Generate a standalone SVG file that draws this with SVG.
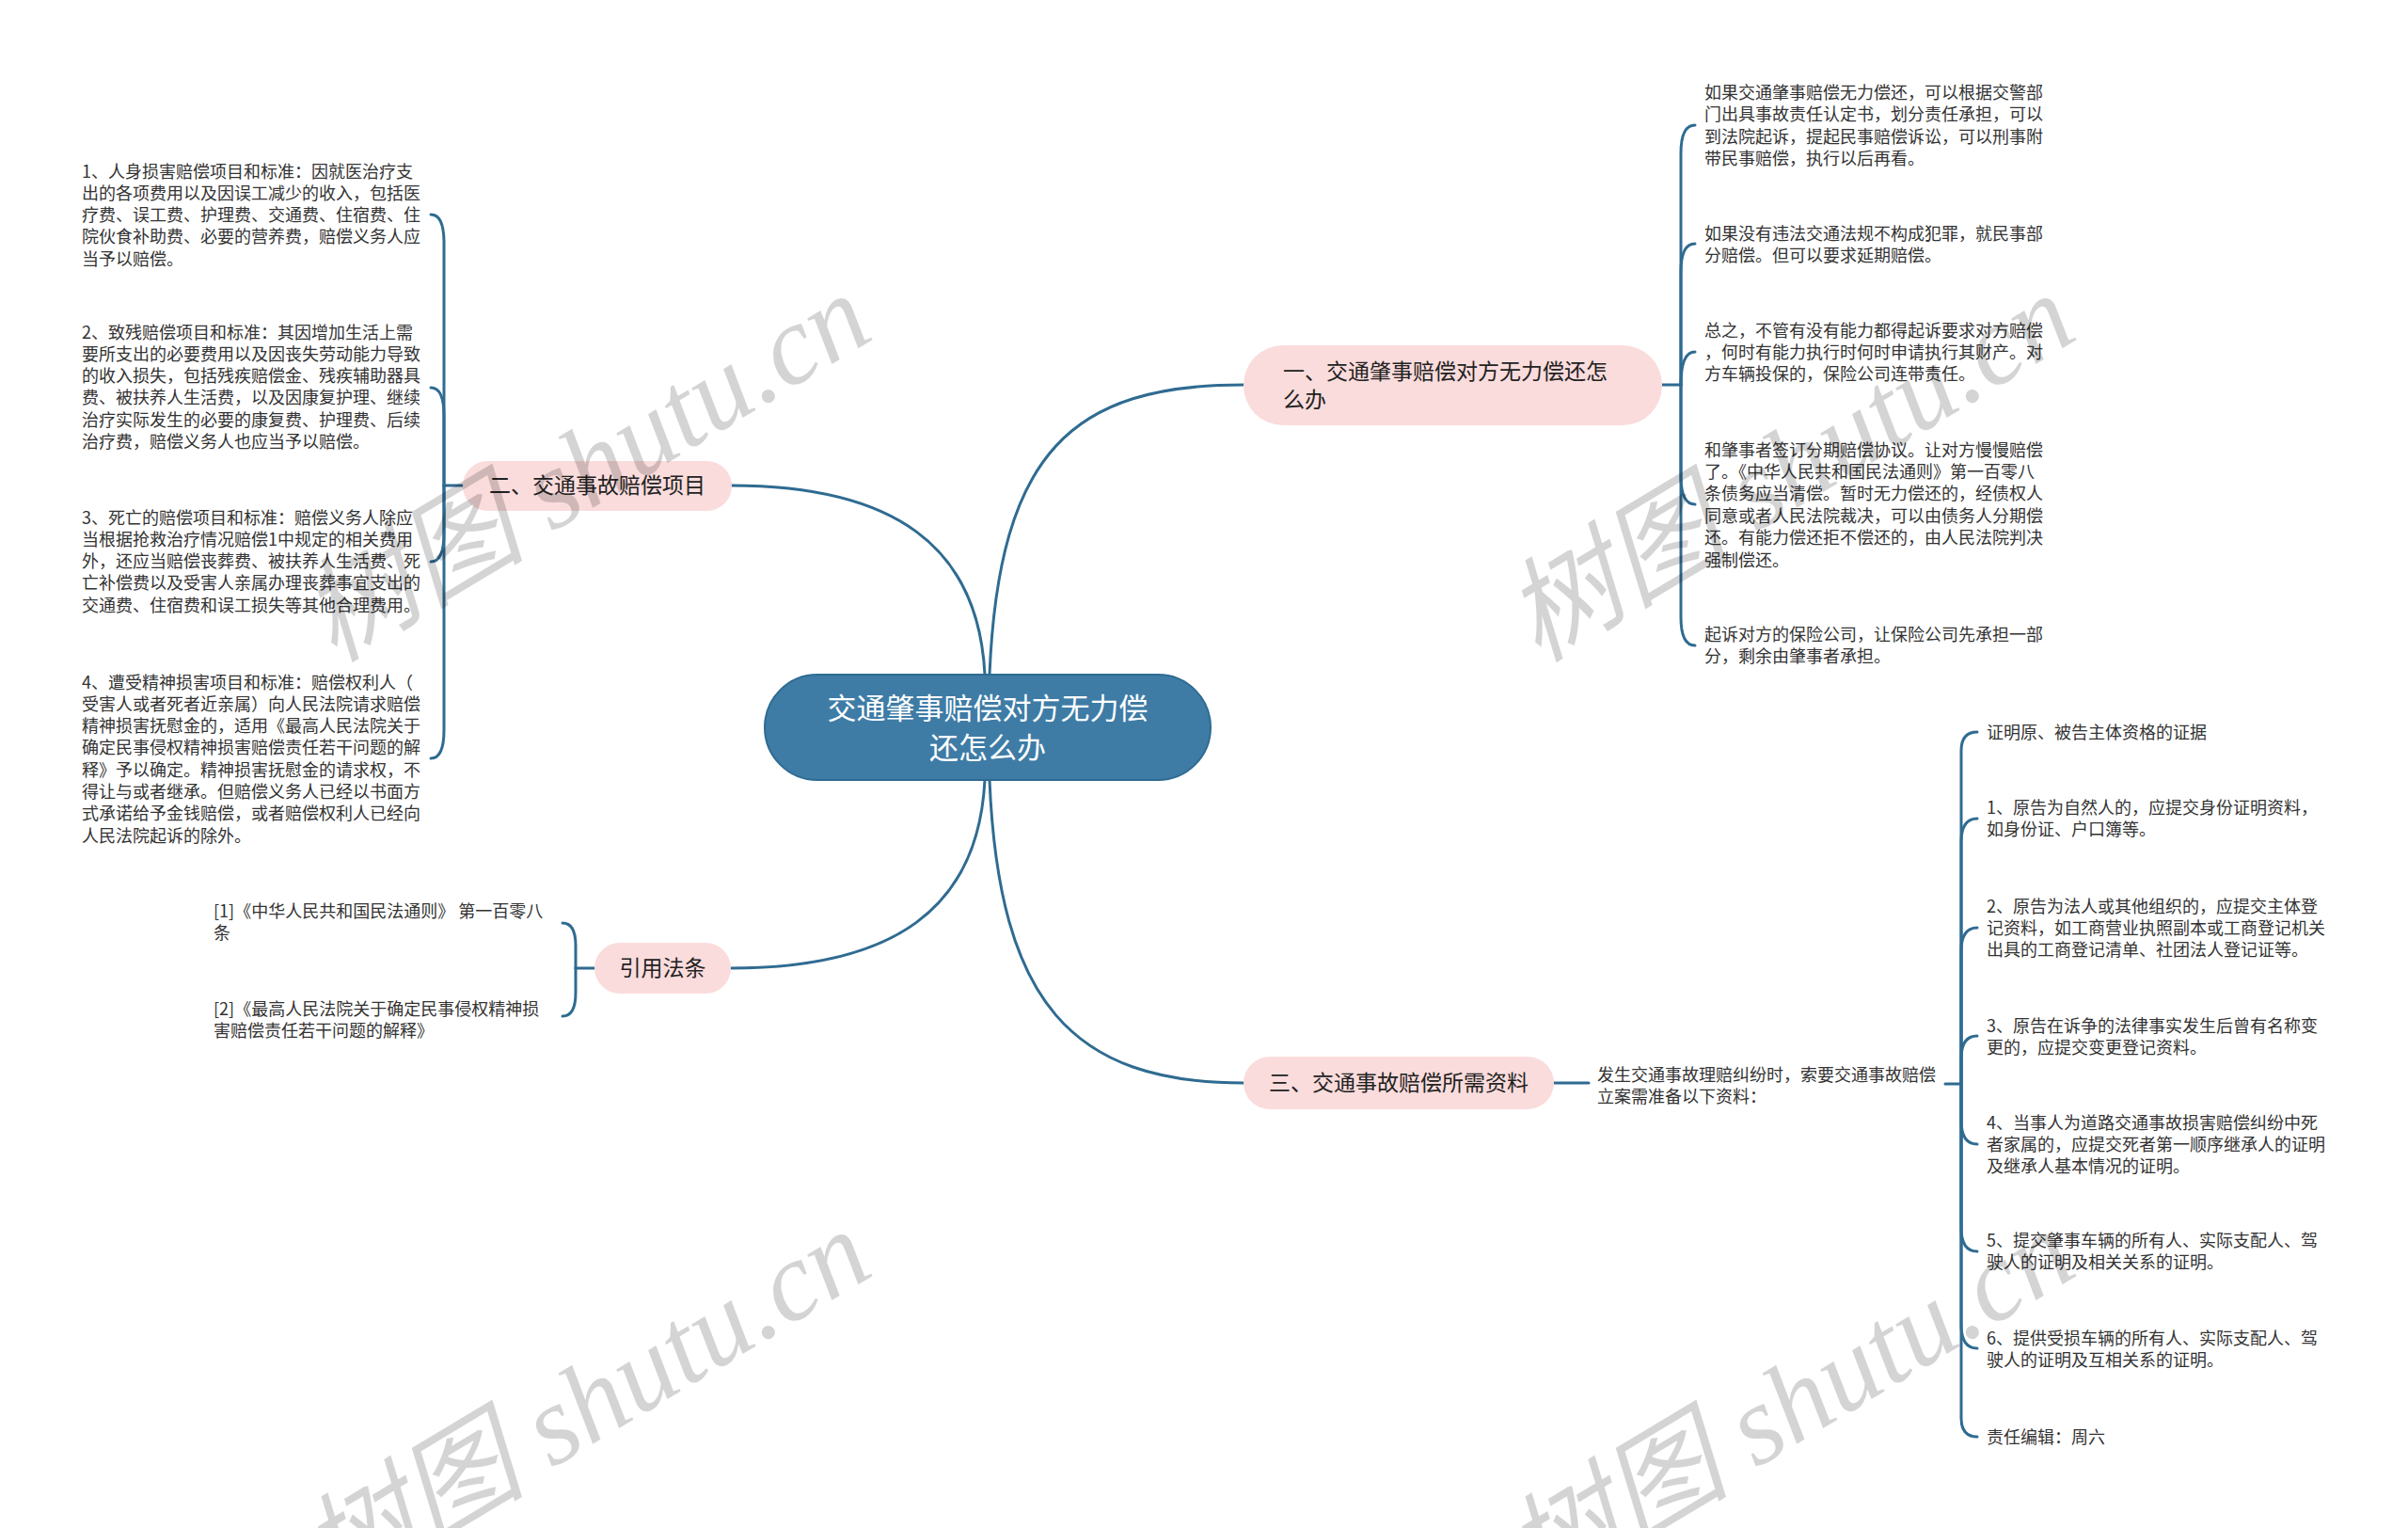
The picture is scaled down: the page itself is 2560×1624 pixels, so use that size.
<svg xmlns="http://www.w3.org/2000/svg" width="2560" height="1624" viewBox="0 0 2560 1624">
<style>
.leaf{font-family:"Noto Sans CJK SC",sans-serif;font-size:18px;fill:#333333}
.br{font-family:"Noto Sans CJK SC",sans-serif;font-size:23px;fill:#222222}
.pill{fill:#fadcdc}
.ct{font-family:"Noto Sans CJK SC",sans-serif;font-size:31px;fill:#ffffff;text-anchor:middle}
.ln{fill:none;stroke:#2f6b91;stroke-width:3;stroke-linecap:round}
.wm{font-family:"Liberation Serif","Noto Sans CJK SC",serif;font-style:italic;font-size:120px;fill:#000000;fill-opacity:0.17}
</style>
<rect width="2560" height="1624" fill="#ffffff"/>
<g id="connectors">
<path class="ln" d="M1052 717 C1062 480 1140 409 1322 409"/>
<path class="ln" d="M777 516 C950 516 1040 580 1047 717"/>
<path class="ln" d="M1047 829 C1040 966 950 1029 777 1029"/>
<path class="ln" d="M1052 829 C1062 1066 1140 1151 1322 1151"/>
<!-- branch 1 bracket -->
<path class="ln" d="M1767 409 H1787"/>
<path class="ln" d="M1787 409 V163 Q1787 133 1802 133"/>
<path class="ln" d="M1787 409 V289 Q1787 259 1802 259"/>
<path class="ln" d="M1787 409 Q1787 374 1802 374"/>
<path class="ln" d="M1787 409 V506 Q1787 536 1802 536"/>
<path class="ln" d="M1787 409 V656 Q1787 686 1802 686"/>
<!-- branch 2 bracket -->
<path class="ln" d="M492 516 H472"/>
<path class="ln" d="M472 516 V258 Q472 228 458 228"/>
<path class="ln" d="M472 516 V442 Q472 412 458 412"/>
<path class="ln" d="M472 516 V567 Q472 597 458 597"/>
<path class="ln" d="M472 516 V776 Q472 806 458 806"/>
<!-- law bracket -->
<path class="ln" d="M632 1029 H612"/>
<path class="ln" d="M612 1029 V1005 Q612 981 598 981"/>
<path class="ln" d="M612 1029 V1055 Q612 1080 598 1080"/>
<!-- branch 3 -->
<path class="ln" d="M1652 1151 H1689"/>
<path class="ln" d="M2068 1152 H2085"/>
<path class="ln" d="M2085 1152 V798 Q2085 778 2102 778"/>
<path class="ln" d="M2085 1152 V895 Q2085 870 2102 870"/>
<path class="ln" d="M2085 1152 V1011 Q2085 986 2102 986"/>
<path class="ln" d="M2085 1152 V1125 Q2085 1101 2102 1101"/>
<path class="ln" d="M2085 1152 V1191 Q2085 1216 2102 1216"/>
<path class="ln" d="M2085 1152 V1305 Q2085 1330 2102 1330"/>
<path class="ln" d="M2085 1152 V1408 Q2085 1433 2102 1433"/>
<path class="ln" d="M2085 1152 V1507 Q2085 1527 2102 1527"/>
</g>
<g id="root">
<rect x="813" y="717" width="474" height="112" rx="56" fill="#3e7ca6" stroke="#2f6b91" stroke-width="2"/>
<text class="ct" x="1050" y="764">交通肇事赔偿对方无力偿</text>
<text class="ct" x="1050" y="806">还怎么办</text>
</g>
<g id="b1">
<rect class="pill" x="1322" y="367" width="445" height="85" rx="42"/>
<text class="br" x="1364" y="403">一、交通肇事赔偿对方无力偿还怎</text>
<text class="br" x="1364" y="433">么办</text>
</g>
<g id="b2">
<rect class="pill" x="492" y="490" width="286" height="53" rx="26.5"/>
<text class="br" x="635" y="524" text-anchor="middle">二、交通事故赔偿项目</text>
</g>
<g id="b-law">
<rect class="pill" x="632" y="1002" width="145" height="54" rx="27"/>
<text class="br" x="704.5" y="1037" text-anchor="middle">引用法条</text>
</g>
<g id="b3">
<rect class="pill" x="1322" y="1123" width="330" height="56" rx="28"/>
<text class="br" x="1487" y="1159" text-anchor="middle">三、交通事故赔偿所需资料</text>
</g>
<g id="b1-l1"><text class="leaf" x="1812" y="105"><tspan x="1812">如果交通肇事赔偿无力偿还，可以根据交警部</tspan><tspan x="1812" dy="23.4">门出具事故责任认定书，划分责任承担，可以</tspan><tspan x="1812" dy="23.4">到法院起诉，提起民事赔偿诉讼，可以刑事附</tspan><tspan x="1812" dy="23.4">带民事赔偿，执行以后再看。</tspan></text></g>
<g id="b1-l2"><text class="leaf" x="1812" y="254.5"><tspan x="1812">如果没有违法交通法规不构成犯罪，就民事部</tspan><tspan x="1812" dy="23.4">分赔偿。但可以要求延期赔偿。</tspan></text></g>
<g id="b1-l3"><text class="leaf" x="1812" y="357.5"><tspan x="1812">总之，不管有没有能力都得起诉要求对方赔偿</tspan><tspan x="1812" dy="23.4">，何时有能力执行时何时申请执行其财产。对</tspan><tspan x="1812" dy="23.4">方车辆投保的，保险公司连带责任。</tspan></text></g>
<g id="b1-l4"><text class="leaf" x="1812" y="484.5"><tspan x="1812">和肇事者签订分期赔偿协议。让对方慢慢赔偿</tspan><tspan x="1812" dy="23.4">了。《中华人民共和国民法通则》第一百零八</tspan><tspan x="1812" dy="23.4">条债务应当清偿。暂时无力偿还的，经债权人</tspan><tspan x="1812" dy="23.4">同意或者人民法院裁决，可以由债务人分期偿</tspan><tspan x="1812" dy="23.4">还。有能力偿还拒不偿还的，由人民法院判决</tspan><tspan x="1812" dy="23.4">强制偿还。</tspan></text></g>
<g id="b1-l5"><text class="leaf" x="1812" y="680.5"><tspan x="1812">起诉对方的保险公司，让保险公司先承担一部</tspan><tspan x="1812" dy="23.4">分，剩余由肇事者承担。</tspan></text></g>
<g id="b2-l1"><text class="leaf" x="87" y="188.5"><tspan x="87">1、人身损害赔偿项目和标准：因就医治疗支</tspan><tspan x="87" dy="23.3">出的各项费用以及因误工减少的收入，包括医</tspan><tspan x="87" dy="23.3">疗费、误工费、护理费、交通费、住宿费、住</tspan><tspan x="87" dy="23.3">院伙食补助费、必要的营养费，赔偿义务人应</tspan><tspan x="87" dy="23.3">当予以赔偿。</tspan></text></g>
<g id="b2-l2"><text class="leaf" x="87" y="359.5"><tspan x="87">2、致残赔偿项目和标准：其因增加生活上需</tspan><tspan x="87" dy="23.3">要所支出的必要费用以及因丧失劳动能力导致</tspan><tspan x="87" dy="23.3">的收入损失，包括残疾赔偿金、残疾辅助器具</tspan><tspan x="87" dy="23.3">费、被扶养人生活费，以及因康复护理、继续</tspan><tspan x="87" dy="23.3">治疗实际发生的必要的康复费、护理费、后续</tspan><tspan x="87" dy="23.3">治疗费，赔偿义务人也应当予以赔偿。</tspan></text></g>
<g id="b2-l3"><text class="leaf" x="87" y="556.5"><tspan x="87">3、死亡的赔偿项目和标准：赔偿义务人除应</tspan><tspan x="87" dy="23.3">当根据抢救治疗情况赔偿1中规定的相关费用</tspan><tspan x="87" dy="23.3">外，还应当赔偿丧葬费、被扶养人生活费、死</tspan><tspan x="87" dy="23.3">亡补偿费以及受害人亲属办理丧葬事宜支出的</tspan><tspan x="87" dy="23.3">交通费、住宿费和误工损失等其他合理费用。</tspan></text></g>
<g id="b2-l4"><text class="leaf" x="87" y="731.5"><tspan x="87">4、遭受精神损害项目和标准：赔偿权利人（</tspan><tspan x="87" dy="23.3">受害人或者死者近亲属）向人民法院请求赔偿</tspan><tspan x="87" dy="23.3">精神损害抚慰金的，适用《最高人民法院关于</tspan><tspan x="87" dy="23.3">确定民事侵权精神损害赔偿责任若干问题的解</tspan><tspan x="87" dy="23.3">释》予以确定。精神损害抚慰金的请求权，不</tspan><tspan x="87" dy="23.3">得让与或者继承。但赔偿义务人已经以书面方</tspan><tspan x="87" dy="23.3">式承诺给予金钱赔偿，或者赔偿权利人已经向</tspan><tspan x="87" dy="23.3">人民法院起诉的除外。</tspan></text></g>
<g id="law-1"><text class="leaf" x="227" y="974.5"><tspan x="227">[1]《中华人民共和国民法通则》 第一百零八</tspan><tspan x="227" dy="23.3">条</tspan></text></g>
<g id="law-2"><text class="leaf" x="227" y="1078.5"><tspan x="227">[2]《最高人民法院关于确定民事侵权精神损</tspan><tspan x="227" dy="23.3">害赔偿责任若干问题的解释》</tspan></text></g>
<g id="b3-sub"><text class="leaf" x="1698" y="1148.5"><tspan x="1698">发生交通事故理赔纠纷时，索要交通事故赔偿</tspan><tspan x="1698" dy="23.3">立案需准备以下资料：</tspan></text></g>
<g id="b3-l0"><text class="leaf" x="2112" y="784.5">证明原、被告主体资格的证据</text></g>
<g id="b3-l1"><text class="leaf" x="2112" y="864.5"><tspan x="2112">1、原告为自然人的，应提交身份证明资料，</tspan><tspan x="2112" dy="23.3">如身份证、户口簿等。</tspan></text></g>
<g id="b3-l2"><text class="leaf" x="2112" y="969.5"><tspan x="2112">2、原告为法人或其他组织的，应提交主体登</tspan><tspan x="2112" dy="23.3">记资料，如工商营业执照副本或工商登记机关</tspan><tspan x="2112" dy="23.3">出具的工商登记清单、社团法人登记证等。</tspan></text></g>
<g id="b3-l3"><text class="leaf" x="2112" y="1096.5"><tspan x="2112">3、原告在诉争的法律事实发生后曾有名称变</tspan><tspan x="2112" dy="23.3">更的，应提交变更登记资料。</tspan></text></g>
<g id="b3-l4"><text class="leaf" x="2112" y="1199.5"><tspan x="2112">4、当事人为道路交通事故损害赔偿纠纷中死</tspan><tspan x="2112" dy="23.3">者家属的，应提交死者第一顺序继承人的证明</tspan><tspan x="2112" dy="23.3">及继承人基本情况的证明。</tspan></text></g>
<g id="b3-l5"><text class="leaf" x="2112" y="1324.5"><tspan x="2112">5、提交肇事车辆的所有人、实际支配人、驾</tspan><tspan x="2112" dy="23.3">驶人的证明及相关关系的证明。</tspan></text></g>
<g id="b3-l6"><text class="leaf" x="2112" y="1428.5"><tspan x="2112">6、提供受损车辆的所有人、实际支配人、驾</tspan><tspan x="2112" dy="23.3">驶人的证明及互相关系的证明。</tspan></text></g>
<g id="b3-l7"><text class="leaf" x="2112" y="1533.5">责任编辑：周六</text></g>
<g id="watermarks">
<text class="wm" transform="translate(355 705) rotate(-31)">树图 shutu.cn</text>
<text class="wm" transform="translate(1635 705) rotate(-31)">树图 shutu.cn</text>
<text class="wm" transform="translate(355 1700) rotate(-31)">树图 shutu.cn</text>
<text class="wm" transform="translate(1635 1700) rotate(-31)">树图 shutu.cn</text>
</g>
</svg>
